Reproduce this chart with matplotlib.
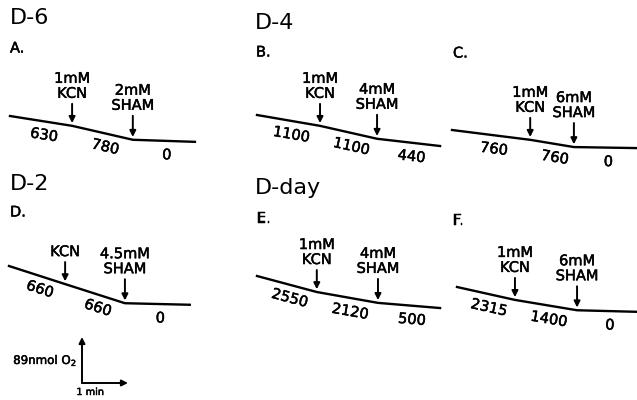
import numpy as np
import matplotlib.pyplot as plt
import matplotlib.patheffects as pe
from matplotlib.transforms import Affine2D

# Oxygen electrode traces, 6 panels (A-F) in 4 day groups
# Calibration bar: 1 min and 89 nmol O2 both ~46 px
PX_PER_MIN = 46
PX_PER_NMOL = 46 / 89

day_titles = ["D-6", "D-4", "D-2", "D-day"]
panel_letters = ["A.", "B.", "C.", "D.", "E.", "F."]

# trace vertices: start, KCN addition, SHAM addition, end
trace_time = [
    [0, 1.35, 2.67, 4.02],
    [0, 1.37, 2.61, 3.98],
    [0, 1.70, 2.65, 4.02],
    [0, 1.22, 2.52, 3.93],
    [0, 1.30, 2.63, 3.98],
    [0, 1.26, 2.61, 3.91],
]
trace_o2 = [
    [0, -19, -46, -50],
    [0, -21, -46, -60],
    [0, -19, -33, -35],
    [0, -35, -72, -75],
    [0, -31, -52, -62],
    [0, -25, -45, -48],
]
kcn_labels = ["1mM\nKCN", "1mM\nKCN", "1mM\nKCN", "KCN", "1mM\nKCN", "1mM\nKCN"]
sham_labels = ["2mM\nSHAM", "4mM\nSHAM", "6mM\nSHAM", "4.5mM\nSHAM", "4mM\nSHAM", "6mM\nSHAM"]
rate_labels = [
    ["630", "780", "0"],
    ["1100", "1100", "440"],
    ["760", "760", "0"],
    ["660", "660", "0"],
    ["2550", "2120", "500"],
    ["2315", "1400", "0"],
]

# Layout (pixels, origin top-left)
trace_origin = [(10, 116), (257, 115), (452, 130), (9, 266), (257, 276), (457, 287)]
letter_pos = [(10, 48), (256, 52), (453, 53), (10, 212), (257, 218), (453, 220)]
title_pos = [(10, 18), (255, 23), (10, 184), (255, 188)]
scalebar_origin = (82, 383)

FONT = "DejaVu Sans"
bolden = [pe.withStroke(linewidth=0.35, foreground="k")]
txt_kw = dict(family=FONT, path_effects=bolden)
arrow_kw = dict(arrowstyle="-|>", color="k", lw=1.4, mutation_scale=9,
                shrinkA=0, shrinkB=2)

fig = plt.figure(figsize=(6.37, 4.0), dpi=100)
ax = fig.add_axes([0, 0, 1, 1])
ax.set_xlim(0, 637)
ax.set_ylim(400, 0)
ax.axis("off")

for (x, y), title in zip(title_pos, day_titles):
    ax.text(x, y, title, fontsize=16, family=FONT, ha="left", va="center")

for i, letter in enumerate(panel_letters):
    lx, ly = letter_pos[i]
    ax.text(lx, ly, letter, fontsize=10.5, ha="left", va="center", **txt_kw)

    ox, oy = trace_origin[i]
    trans = Affine2D().scale(PX_PER_MIN, -PX_PER_NMOL).translate(ox, oy) + ax.transData
    t = trace_time[i]
    o2 = trace_o2[i]
    ax.plot(t, o2, transform=trans, color="k", lw=1.7, clip_on=False)

    # additions: KCN at vertex 1, SHAM at vertex 2
    for k, lab, gap in [(1, kcn_labels[i], 24), (2, sham_labels[i], 26)]:
        ax.annotate("", xy=(t[k], o2[k]), xycoords=trans,
                    xytext=(0, gap - 2), textcoords="offset pixels",
                    arrowprops=arrow_kw)
        ax.annotate(lab, xy=(t[k], o2[k]), xycoords=trans,
                    xytext=(0, gap + 1), textcoords="offset pixels",
                    ha="center", va="bottom", fontsize=10.5,
                    linespacing=1.0, annotation_clip=False, **txt_kw)

    # rates under each segment, following its slope
    for j, rate in enumerate(rate_labels[i]):
        p0 = trans.transform((t[j], o2[j]))
        p1 = trans.transform((t[j + 1], o2[j + 1]))
        ang = np.degrees(np.arctan2(p1[1] - p0[1], p1[0] - p0[0]))
        mid = ((t[j] + t[j + 1]) / 2, (o2[j] + o2[j + 1]) / 2)
        ax.annotate(rate, xy=mid, xycoords=trans,
                    xytext=(3, -14), textcoords="offset pixels",
                    rotation=ang, rotation_mode="anchor",
                    ha="center", va="center", fontsize=10.5,
                    annotation_clip=False, **txt_kw)

# calibration bar
sx, sy = scalebar_origin
sb = Affine2D().scale(PX_PER_MIN, -PX_PER_NMOL).translate(sx, sy) + ax.transData
ax.annotate("", xy=(0, 89), xycoords=sb, xytext=(0, 0), textcoords=sb,
            arrowprops=dict(arrow_kw, shrinkB=0))
ax.annotate("", xy=(1, 0), xycoords=sb, xytext=(0, 0), textcoords=sb,
            arrowprops=dict(arrow_kw, shrinkB=0))
ax.annotate("89nmol O$_2$", xy=(0, 44.5), xycoords=sb, xytext=(-5, 0),
            textcoords="offset pixels", ha="right", va="center",
            fontsize=8.5, **txt_kw)
ax.annotate("1 min", xy=(0.18, 0), xycoords=sb, xytext=(0, -9),
            textcoords="offset pixels", ha="center", va="center",
            fontsize=7, **txt_kw)

fig.savefig("out.png", dpi=100)
